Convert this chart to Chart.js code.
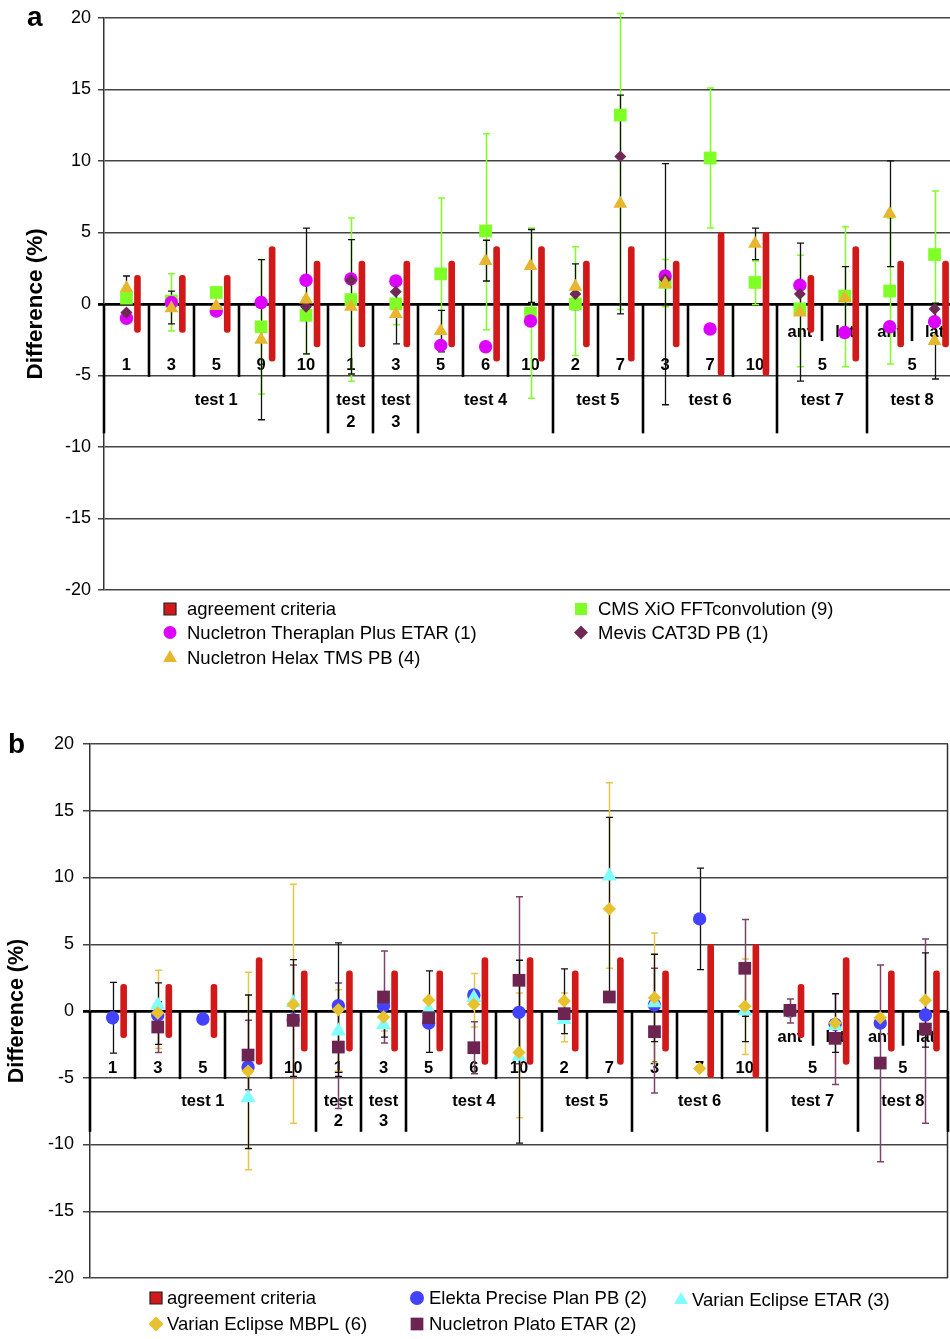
<!DOCTYPE html>
<html>
<head>
<meta charset="utf-8">
<script src="https://cdn.jsdelivr.net/npm/chart.js@4.4.1/dist/chart.umd.min.js"></script>
<style>
  html, body { margin: 0; padding: 0; background: #fff; overflow: hidden; width: 950px; height: 1339px; }
  #boxA { position: absolute; left: 0; top: 0; width: 970px; height: 690px; }
  #boxB { position: absolute; left: 0; top: 690px; width: 950px; height: 649px; }
</style>
</head>
<body>
<div id="boxA"><canvas id="chartA" width="970" height="690"></canvas></div>
<div id="boxB"><canvas id="chartB" width="950" height="649"></canvas></div>
<script>
const FONT = "'Liberation Sans', Arial, sans-serif";

// category structure (shared by both panels)
const fieldLabels = ['1', '3', '5', '9', '10', '1', '3', '5', '6', '10', '2', '7', '3', '7', '10', '5', '5', '5', '5'];
const beamLabels  = ['', '', '', '', '', '', '', '', '', '', '', '', '', '', '', 'ant', 'lat', 'ant', 'lat'];
const testLabels  = [['test 1'], ['test', '2'], ['test', '3'], ['test 4'], ['test 5'], ['test 6'], ['test 7'], ['test 8']];
const testSizes   = [5, 1, 1, 3, 2, 3, 2, 2];
const criteria    = [2, 2, 2, 4, 3, 3, 3, 3, 4, 4, 3, 4, 3, 5, 5, 2, 4, 3, 3];

// panel a
const theraplanA = [-1.0, 0.1, -0.5, 0.1, 1.65, 1.75, 1.6, -2.9, -3.0, -1.2, null, null, 1.95, -1.75, null, 1.3, -2.0, -1.6, -1.25];
const helaxA     = [1.1, -0.3, -0.15, -2.5, 0.3, -0.2, -0.7, -1.9, 3.0, 2.65, 1.2, 7.0, 1.4, null, 4.2, -0.6, 0.4, 6.3, -2.6];
const xioA       = [0.4, 0.2, 0.8, -1.6, -0.8, 0.3, 0.0, 2.1, 5.1, -0.65, 0.0, 13.2, 1.5, 10.2, 1.5, -0.35, 0.55, 0.9, 3.45];
const mevisA     = [-0.6, null, null, null, -0.2, 1.65, 0.85, null, null, null, 0.7, 10.3, 1.7, null, null, 0.7, null, null, -0.35];
const xioErrA    = [null, [-1.9, 2.1], null, [-6.3, 3.1], [-3.5, 1.9], [-5.4, 6.0], [-1.45, 1.45], [-3.2, 7.4], [-1.8, 11.9], [-6.6, 5.3],
                    [-3.6, 4.0], [-0.4, 20.3], [-0.2, 3.1], [5.3, 15.1], [-0.05, 3.0], [-4.4, 3.4], [-4.4, 5.4], [-4.2, 6.0], [-1.0, 7.9]];
const helaxErrA  = [[0.3, 1.95], [-1.4, 0.9], null, [-8.1, 3.1], [-3.5, 5.3], [-4.9, 4.5], [-2.8, 1.4], [-3.35, -0.45], [1.6, 4.45], [0.1, 5.2],
                    [-0.4, 2.8], [-0.7, 14.6], [-7.05, 9.8], null, [3.1, 5.3], [-5.4, 4.25], [-1.8, 2.6], [2.6, 10.0], [-5.25, 0.05]];

// panel b
const elektaB    = [-0.5, -0.3, -0.6, -4.2, -0.65, 0.4, 0.4, -0.9, 1.2, -0.1, null, null, 0.45, 6.9, null, 0.0, -1.0, -0.9, -0.3];
const etarB      = [null, 0.45, null, -6.5, 0.6, -1.5, -1.05, 0.1, 1.0, -3.4, -0.65, 10.1, 0.6, null, 0.0, null, -1.1, null, null];
const mbplB      = [null, -0.15, null, -4.5, 0.5, 0.1, -0.45, 0.8, 0.5, -3.1, 0.75, 7.65, 1.0, -4.3, 0.35, 0.0, -0.9, -0.5, 0.8];
const platoB     = [null, -1.2, null, -3.3, -0.7, -2.7, 1.05, -0.5, -2.75, 2.3, -0.2, 1.05, -1.55, null, 3.2, 0.05, -2.05, -3.9, -1.35];
const blackErrB  = [[-3.15, 2.15], [-2.5, 2.1], null, [-10.3, 1.2], [-4.9, 3.85], [-4.9, 5.1], [-1.95, 0.9], [-3.1, 3.0], null, [-9.9, 3.8],
                    [-1.7, 3.15], [1.0, 14.5], [-2.3, 4.25], [3.1, 10.7], [-2.3, -0.4], null, [-3.1, 1.3], null, [-2.7, 4.35]];
const mbplErrB   = [null, [-2.8, 3.05], null, [-11.9, 2.9], [-8.4, 9.5], [-4.5, 1.6], [-1.5, 0.6], null, [-1.2, 2.8], [-8.0, 1.35],
                    [-2.3, 1.35], [3.2, 17.1], [-3.85, 5.85], null, [-3.25, 3.9], null, null, null, null];
const platoErrB  = [null, [-3.1, 0.7], null, [-5.9, -0.7], [-5.0, 3.45], [-7.3, 2.1], [-2.4, 4.5], null, [-4.7, -0.8], [-3.95, 8.55],
                    null, null, [-6.15, 3.2], null, [-0.4, 6.85], [-0.9, 0.9], [-5.5, 1.3], [-11.3, 3.45], [-8.4, 5.4]];

// label / separator depths in axis units
const BEAM_Y = -1.9, FIELD_Y = -4.2, TEST_Y = [-6.7, -8.2];
const BEAM_DEPTH = -2.6, FIELD_DEPTH = -5.1, GROUP_DEPTH = -9.05;
const BAR_SHIFT = 0.245;
const CAP = 3.5;
const RED = '#d11919';

function structure(cfg) {
  return {
    id: 'structure',
    beforeDatasetsDraw(chart) {
      const { ctx, chartArea } = chart;
      const xs = chart.scales.x, ys = chart.scales.y;
      const px = v => xs.getPixelForValue(v);
      const py = v => ys.getPixelForValue(v);
      ctx.save();
      if (cfg.rightBorder) {
        ctx.strokeStyle = '#333';
        ctx.lineWidth = 1.5;
        ctx.beginPath();
        ctx.moveTo(chartArea.right - 0.5, chartArea.top);
        ctx.lineTo(chartArea.right - 0.5, chartArea.bottom);
        ctx.stroke();
      }
      ctx.strokeStyle = '#000';
      ctx.lineWidth = 2.6;
      const vline = (v, depth) => {
        const x = Math.round(px(v));
        ctx.beginPath();
        ctx.moveTo(x, py(0));
        ctx.lineTo(x, py(depth));
        ctx.stroke();
      };
      ctx.fillStyle = '#000';
      ctx.font = 'bold 16.5px ' + FONT;
      ctx.textAlign = 'center';
      ctx.textBaseline = 'middle';
      const text = (s, xv, yv) => ctx.fillText(s, px(xv), py(yv) + 1);

      let start = 0;
      testSizes.forEach((n, g) => {
        const end = start + n - 1;
        vline(start - 0.5, GROUP_DEPTH);
        let spanStart = start;
        for (let i = start; i <= end; i++) {
          if (beamLabels[i]) text(beamLabels[i], i, BEAM_Y);
          const merged = i < end && beamLabels[i + 1] && fieldLabels[i + 1] === fieldLabels[i];
          if (i < end) vline(i + 0.5, merged ? BEAM_DEPTH : FIELD_DEPTH);
          if (!merged) {
            text(fieldLabels[i], (spanStart + i) / 2, FIELD_Y);
            spanStart = i + 1;
          }
        }
        testLabels[g].forEach((s, k) => text(s, (start + end) / 2, TEST_Y[k]));
        start = end + 1;
      });
      vline(start - 0.5, GROUP_DEPTH);

      // error bars
      cfg.errors.forEach(e => {
        ctx.strokeStyle = e.color;
        ctx.lineWidth = e.width;
        e.data.forEach((r, i) => {
          if (!r) return;
          const x = Math.round(px(i)) + 0.5;
          const y0 = py(r[0]), y1 = py(r[1]);
          ctx.beginPath();
          ctx.moveTo(x, y0); ctx.lineTo(x, y1);
          ctx.moveTo(x - CAP, y0); ctx.lineTo(x + CAP, y0);
          ctx.moveTo(x - CAP, y1); ctx.lineTo(x + CAP, y1);
          ctx.stroke();
        });
      });
      ctx.restore();
    },
    afterDraw(chart) {
      const ctx = chart.ctx;
      ctx.save();
      ctx.fillStyle = '#000';
      ctx.font = 'bold 28px ' + FONT;
      ctx.textAlign = 'left';
      ctx.textBaseline = 'alphabetic';
      ctx.fillText(cfg.panel.text, cfg.panel.x, cfg.panel.y);

      ctx.font = '18.5px ' + FONT;
      ctx.textBaseline = 'middle';
      cfg.legend.forEach(it => {
        ctx.fillStyle = it.color;
        ctx.strokeStyle = it.border || it.color;
        ctx.lineWidth = 1.2;
        Chart.helpers.drawPoint(ctx, { pointStyle: it.style, radius: it.radius, rotation: 0, borderWidth: it.border ? 1.2 : 0 }, it.x, it.y);
        ctx.fillStyle = '#000';
        ctx.fillText(it.text, it.tx, it.y + 1);
      });
      ctx.restore();
    }
  };
}

function points(values) {
  return values.map((v, i) => (v === null ? null : { x: i, y: v })).filter(p => p);
}

function makeChart(id, cfg) {
  const datasets = cfg.series.map(s => ({
    type: 'scatter',
    label: s.label,
    data: points(s.data),
    pointStyle: s.style,
    pointRadius: s.radius,
    pointBackgroundColor: s.color,
    pointBorderWidth: 0,
    clip: false
  }));
  datasets.push({
    type: 'bar',
    label: 'agreement criteria',
    data: criteria.map((c, i) => ({ x: i + BAR_SHIFT, y: [-c, c] })),
    backgroundColor: RED,
    barThickness: 6,
    borderRadius: 3,
    borderSkipped: false,
    grouped: false
  });

  return new Chart(document.getElementById(id), {
    type: 'scatter',
    data: { datasets: datasets },
    options: {
      responsive: false,
      animation: false,
      events: [],
      layout: { padding: cfg.padding, autoPadding: false },
      plugins: { legend: { display: false }, tooltip: { enabled: false } },
      scales: {
        x: {
          type: 'linear',
          min: -0.5,
          max: fieldLabels.length - 0.5,
          offset: false,
          display: false
        },
        y: {
          min: -20,
          max: 20,
          afterFit: scale => { scale.width = cfg.axisWidth; },
          ticks: {
            stepSize: 5,
            color: '#000',
            padding: cfg.tickPadding,
            font: { family: FONT, size: 18 }
          },
          grid: {
            color: c => (c.tick && c.tick.value === 0 ? '#000' : '#444'),
            lineWidth: c => (c.tick && c.tick.value === 0 ? 2.8 : 1.5),
            tickLength: cfg.tickLength
          },
          border: { display: true, color: '#333', width: 1.5 },
          title: {
            display: true,
            text: 'Difference (%)',
            color: '#000',
            padding: { top: cfg.titlePad, bottom: 0 },
            font: { family: FONT, size: cfg.titleSize, weight: 'bold' }
          }
        }
      }
    },
    plugins: [structure(cfg)]
  });
}

makeChart('chartA', {
  padding: { left: 0, top: 16, right: 13, bottom: 100 },
  axisWidth: 104,
  tickPadding: 7,
  tickLength: 6,
  titlePad: 22,
  titleSize: 22.5,
  rightBorder: false,
  panel: { text: 'a', x: 27, y: 26 },
  series: [
    { label: 'Nucletron Helax TMS PB (4)', data: helaxA, color: '#e6b62c', style: 'triangle', radius: 8 },
    { label: 'Mevis CAT3D PB (1)', data: mevisA, color: '#6e2a55', style: 'rectRot', radius: 6 },
    { label: 'Nucletron Theraplan Plus ETAR (1)', data: theraplanA, color: '#de00ff', style: 'circle', radius: 6.7 },
    { label: 'CMS XiO FFTconvolution (9)', data: xioA, color: '#80ff26', style: 'rect', radius: 9 }
  ],
  errors: [
    { data: xioErrA, color: '#80ff26', width: 1.5 },
    { data: helaxErrA, color: '#111', width: 1.3 }
  ],
  legend: [
    { text: 'agreement criteria', style: 'rect', radius: 8.5, color: RED, border: '#222', x: 170, y: 609, tx: 187 },
    { text: 'Nucletron Theraplan Plus ETAR (1)', style: 'circle', radius: 6.5, color: '#de00ff', x: 170, y: 632.5, tx: 187 },
    { text: 'Nucletron Helax TMS PB (4)', style: 'triangle', radius: 8, color: '#e6b62c', x: 170, y: 658, tx: 187 },
    { text: 'CMS XiO FFTconvolution (9)', style: 'rect', radius: 8.5, color: '#80ff26', x: 581, y: 609, tx: 598 },
    { text: 'Mevis CAT3D PB (1)', style: 'rectRot', radius: 7, color: '#6e2a55', x: 581, y: 632.5, tx: 598 }
  ]
});

makeChart('chartB', {
  padding: { left: 0, top: 54, right: 2, bottom: 61 },
  axisWidth: 90,
  tickPadding: 9,
  tickLength: 7,
  titlePad: 4,
  titleSize: 21.5,
  rightBorder: true,
  panel: { text: 'b', x: 8, y: 63 },
  series: [
    { label: 'Nucletron Plato ETAR (2)', data: platoB, color: '#6e2450', style: 'rect', radius: 9 },
    { label: 'Varian Eclipse MBPL (6)', data: mbplB, color: '#e8c12e', style: 'rectRot', radius: 6.7 },
    { label: 'Varian Eclipse ETAR (3)', data: etarB, color: '#80ffff', style: 'triangle', radius: 8.7 },
    { label: 'Elekta Precise Plan PB (2)', data: elektaB, color: '#4242ff', style: 'circle', radius: 6.7 }
  ],
  errors: [
    { data: mbplErrB, color: '#e8c548', width: 1.5 },
    { data: platoErrB, color: '#7d4468', width: 1.5 },
    { data: blackErrB, color: '#111', width: 1.3 }
  ],
  legend: [
    { text: 'agreement criteria', style: 'rect', radius: 8.5, color: RED, border: '#222', x: 156, y: 608, tx: 167 },
    { text: 'Elekta Precise Plan PB (2)', style: 'circle', radius: 7, color: '#4242ff', x: 417, y: 608, tx: 429 },
    { text: 'Varian Eclipse ETAR (3)', style: 'triangle', radius: 8, color: '#80ffff', x: 681, y: 610, tx: 692 },
    { text: 'Varian Eclipse MBPL (6)', style: 'rectRot', radius: 7.5, color: '#e8c12e', x: 156, y: 634, tx: 167 },
    { text: 'Nucletron Plato ETAR (2)', style: 'rect', radius: 9, color: '#6e2450', x: 417, y: 634, tx: 429 }
  ]
});
</script>
</body>
</html>
